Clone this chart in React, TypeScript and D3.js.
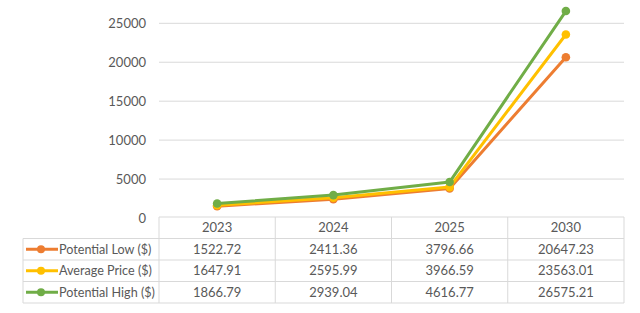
import React from "react";
import * as d3 from "d3";

const years = ["2023", "2024", "2025", "2030"];
const seriesNames = ["Potential Low ($)", "Average Price ($)", "Potential High ($)"];
const lowValues = [1522.72, 2411.36, 3796.66, 20647.23];
const avgValues = [1647.91, 2595.99, 3966.59, 23563.01];
const highValues = [1866.79, 2939.04, 4616.77, 26575.21];
const lowLabels = ["1522.72", "2411.36", "3796.66", "20647.23"];
const avgLabels = ["1647.91", "2595.99", "3966.59", "23563.01"];
const highLabels = ["1866.79", "2939.04", "4616.77", "26575.21"];
const yTicks = [0, 5000, 10000, 15000, 20000, 25000];
const colors = ["#ED7D31", "#FFC000", "#70AD47"];

export default function App() {
  const W = 640, H = 313;
  const left = 159, right = 624;
  const y0 = 218, yTop = 23.3;
  const x = d3.scaleBand<string>().domain(years).range([left, right]);
  const y = d3.scaleLinear().domain([0, 25000]).range([y0, yTop]);
  const series = [lowValues, avgValues, highValues];
  const labels = [lowLabels, avgLabels, highLabels];
  const line = d3
    .line<number>()
    .x((_, i) => (x(years[i]) as number) + x.bandwidth() / 2)
    .y((d) => y(d));
  const font = "Lato, 'Open Sans', sans-serif";
  const textColor = "#595959";
  const border = "#d9d9d9";
  const rowTop = 217;
  const rowH = 21.5;
  const legendLeft = 23;
  const rowY = (r: number) => rowTop + r * rowH;

  return (
    <div style={{ position: "absolute", left: 0, top: 0 }}>
      <svg width={W} height={H} style={{ display: "block", background: "#fff" }}>
        {yTicks.slice(1).map((t) => (
          <line key={t} x1={left} x2={right} y1={y(t)} y2={y(t)} stroke={border} strokeWidth={1} />
        ))}
        {yTicks.map((t) => (
          <text key={t} x={146} y={y(t)} dy="0.35em" textAnchor="end" fontFamily={font} fontSize={13} fill={textColor}>
            {t}
          </text>
        ))}
        {/* table */}
        <g fill="none" stroke={border} strokeWidth={1}>
          <line x1={left} x2={right} y1={rowY(0)} y2={rowY(0)} />
          {[1, 2, 3, 4].map((r) => (
            <line key={r} x1={legendLeft} x2={right} y1={rowY(r)} y2={rowY(r)} />
          ))}
          <line x1={legendLeft} x2={legendLeft} y1={rowY(1)} y2={rowY(4)} />
          {years.map((yr) => (
            <line key={yr} x1={x(yr)} x2={x(yr)} y1={rowY(0)} y2={rowY(4)} />
          ))}
          <line x1={right} x2={right} y1={rowY(0)} y2={rowY(4)} />
        </g>
        {years.map((yr) => (
          <text key={yr} x={(x(yr) as number) + x.bandwidth() / 2} y={rowY(0) + rowH / 2} dy="0.35em" textAnchor="middle" fontFamily={font} fontSize={13} fill={textColor}>
            {yr}
          </text>
        ))}
        {labels.map((ls, si) =>
          ls.map((l, i) => (
            <text key={si + "-" + i} x={(x(years[i]) as number) + x.bandwidth() / 2} y={rowY(si + 1) + rowH / 2} dy="0.35em" textAnchor="middle" fontFamily={font} fontSize={13} fill={textColor}>
              {l}
            </text>
          ))
        )}
        {seriesNames.map((n, si) => {
          const cy = rowY(si + 1) + rowH / 2;
          return (
            <g key={n}>
              <line x1={26} x2={58} y1={cy} y2={cy} stroke={colors[si]} strokeWidth={3} />
              <circle cx={41} cy={cy} r={4} fill={colors[si]} />
              <text x={59} y={cy} dy="0.35em" fontFamily={font} fontSize={12.6} fill={textColor}>
                {n}
              </text>
            </g>
          );
        })}
        {series.map((vals, si) => (
          <g key={si}>
            <path d={line(vals) as string} fill="none" stroke={colors[si]} strokeWidth={3} strokeLinejoin="round" />
            {vals.map((v, i) => (
              <circle key={i} cx={(x(years[i]) as number) + x.bandwidth() / 2} cy={y(v)} r={4.3} fill={colors[si]} />
            ))}
          </g>
        ))}
      </svg>
    </div>
  );
}
